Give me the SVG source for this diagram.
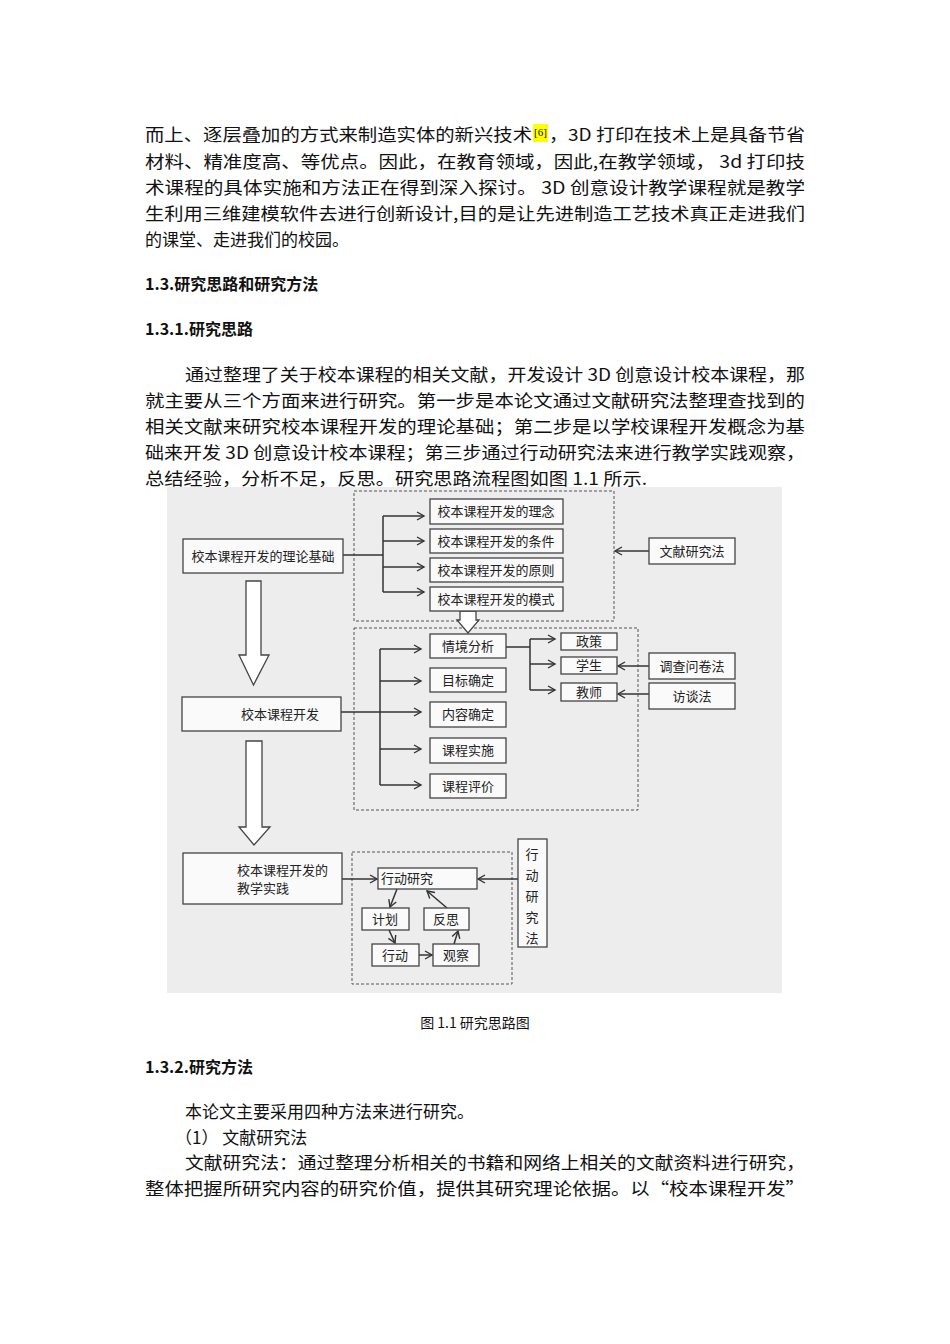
<svg xmlns="http://www.w3.org/2000/svg" width="950" height="1344" viewBox="0 0 950 1344">
<style>
.p{font-family:"Noto Sans CJK SC","Liberation Serif",serif;font-size:17px;fill:#111}
.h{font-family:"Noto Sans CJK SC","Liberation Serif",serif;font-size:16px;font-weight:bold;fill:#111}
.b{fill:#fafafa;stroke:#444;stroke-width:1.3}
.t{font-family:"Noto Sans CJK SC","Liberation Sans",sans-serif;font-size:13px;fill:#222;text-anchor:middle}
.d{fill:none;stroke:#555;stroke-width:1;stroke-dasharray:3 2}
.l{fill:none;stroke:#333;stroke-width:1.5}
.ha{fill:#fff;stroke:#444;stroke-width:1.3}
</style>
<defs><marker id="a" markerWidth="10" markerHeight="10" refX="8" refY="5" orient="auto" markerUnits="userSpaceOnUse"><path d="M1,1 L8,5 L1,9" fill="none" stroke="#333" stroke-width="1.4"/></marker></defs>
<rect width="950" height="1344" fill="#fff"/>
<g id="text">
<text class="p" x="145" y="141" textLength="387" lengthAdjust="spacingAndGlyphs">而上、逐层叠加的方式来制造实体的新兴技术</text>
<rect x="533" y="124" width="15" height="18" fill="#ffff00"/>
<text x="534" y="136" font-family="Liberation Serif,serif" font-size="11" fill="#111">[6]</text>
<text class="p" x="549" y="141" textLength="256" lengthAdjust="spacingAndGlyphs">，3D 打印在技术上是具备节省</text>
<text class="p" x="145" y="168" textLength="660" lengthAdjust="spacingAndGlyphs">材料、精准度高、等优点。因此，在教育领域，因此,在教学领域， 3d 打印技</text>
<text class="p" x="145" y="194" textLength="660" lengthAdjust="spacingAndGlyphs">术课程的具体实施和方法正在得到深入探讨。  3D 创意设计教学课程就是教学</text>
<text class="p" x="145" y="220" textLength="660" lengthAdjust="spacingAndGlyphs">生利用三维建模软件去进行创新设计,目的是让先进制造工艺技术真正走进我们</text>
<text class="p" x="145" y="246">的课堂、走进我们的校园。</text>
<text class="h" x="145" y="290">1.3.研究思路和研究方法</text>
<text class="h" x="145" y="335">1.3.1.研究思路</text>
<text class="p" x="185" y="381" textLength="620" lengthAdjust="spacingAndGlyphs">通过整理了关于校本课程的相关文献，开发设计 3D 创意设计校本课程，那</text>
<text class="p" x="145" y="407" textLength="660" lengthAdjust="spacingAndGlyphs">就主要从三个方面来进行研究。第一步是本论文通过文献研究法整理查找到的</text>
<text class="p" x="145" y="433" textLength="660" lengthAdjust="spacingAndGlyphs">相关文献来研究校本课程开发的理论基础；第二步是以学校课程开发概念为基</text>
<text class="p" x="145" y="459" textLength="660" lengthAdjust="spacingAndGlyphs">础来开发 3D 创意设计校本课程；第三步通过行动研究法来进行教学实践观察，</text>
<text class="p" x="145" y="485" textLength="502" lengthAdjust="spacingAndGlyphs">总结经验，分析不足，反思。研究思路流程图如图 1.1 所示.</text>
<text x="475" y="1028" text-anchor="middle" font-family="Noto Sans CJK SC,Liberation Sans,sans-serif" font-size="14" fill="#111">图 1.1  研究思路图</text>
<text class="h" x="145" y="1073">1.3.2.研究方法</text>
<text class="p" x="185" y="1118">本论文主要采用四种方法来进行研究。</text>
<text class="p" x="175" y="1144">（1）  文献研究法</text>
<text class="p" x="185" y="1169" textLength="620" lengthAdjust="spacingAndGlyphs">文献研究法：通过整理分析相关的书籍和网络上相关的文献资料进行研究，</text>
<text class="p" x="145" y="1195" textLength="660" lengthAdjust="spacingAndGlyphs">整体把握所研究内容的研究价值，提供其研究理论依据。以“校本课程开发”</text>
</g>
<rect x="167" y="487" width="615" height="506" fill="#ededed"/>
<g id="groups">
<rect class="d" x="354" y="491" width="260" height="130"/>
<rect class="d" x="354" y="628" width="284" height="182"/>
<rect class="d" x="352" y="852" width="160" height="132"/>
</g>
<g id="connectors">
<path class="l" d="M343,555 H383 M383,516 V592"/>
<path class="l" marker-end="url(#a)" d="M383,516 H424"/>
<path class="l" marker-end="url(#a)" d="M383,541 H424"/>
<path class="l" marker-end="url(#a)" d="M383,567 H424"/>
<path class="l" marker-end="url(#a)" d="M383,592 H424"/>
<path class="l" marker-end="url(#a)" d="M649,551 H615"/>
<path class="l" d="M341,712 H380 M380,649 V785"/>
<path class="l" marker-end="url(#a)" d="M380,649 H421"/>
<path class="l" marker-end="url(#a)" d="M380,681 H421"/>
<path class="l" marker-end="url(#a)" d="M380,712 H421"/>
<path class="l" marker-end="url(#a)" d="M380,749 H421"/>
<path class="l" marker-end="url(#a)" d="M380,785 H421"/>
<path class="l" d="M506,647 H530 M530,639 V690"/>
<path class="l" marker-end="url(#a)" d="M530,639 H555"/>
<path class="l" marker-end="url(#a)" d="M530,664 H555"/>
<path class="l" marker-end="url(#a)" d="M530,690 H555"/>
<path class="l" marker-end="url(#a)" d="M649,666 H618"/>
<path class="l" marker-end="url(#a)" d="M649,694 H618"/>
<path class="l" marker-end="url(#a)" d="M342,879 H377"/>
<path class="l" marker-end="url(#a)" d="M518,879 H478"/>
<path class="l" marker-end="url(#a)" d="M397,889 L390,907"/>
<path class="l" marker-end="url(#a)" d="M389,930 L395,943"/>
<path class="l" marker-end="url(#a)" d="M419,955 H432"/>
<path class="l" marker-end="url(#a)" d="M454,944 L458,931"/>
<path class="l" marker-end="url(#a)" d="M447,908 L427,891"/>
<path class="ha" d="M246,581 H261 V655 H269 L253.5,685 L239,655 H246 Z"/>
<path class="ha" d="M246,741 H262 V827 H270 L254,845 L239,827 H246 Z"/>
<path class="ha" d="M460,611 H476 V620 H479 L468,633 L457,620 H460 Z"/>
</g>
<g id="n1"><rect class="b" x="183" y="539" width="160" height="34"/><text class="t" x="263" y="561">校本课程开发的理论基础</text></g>
<g id="n2"><rect class="b" x="430" y="499" width="133" height="25"/><text class="t" x="496" y="516">校本课程开发的理念</text></g>
<g id="n3"><rect class="b" x="430" y="529" width="133" height="24"/><text class="t" x="496" y="546">校本课程开发的条件</text></g>
<g id="n4"><rect class="b" x="430" y="558" width="133" height="24"/><text class="t" x="496" y="575">校本课程开发的原则</text></g>
<g id="n5"><rect class="b" x="430" y="587" width="133" height="24"/><text class="t" x="496" y="604">校本课程开发的模式</text></g>
<g id="n6"><rect class="b" x="649" y="538" width="86" height="26"/><text class="t" x="692" y="556">文献研究法</text></g>
<g id="n7"><rect class="b" x="182" y="697" width="159" height="34"/><text class="t" x="280" y="719">校本课程开发</text></g>
<g id="n8"><rect class="b" x="430" y="634" width="76" height="24"/><text class="t" x="468" y="651">情境分析</text></g>
<g id="n9"><rect class="b" x="430" y="668" width="76" height="24"/><text class="t" x="468" y="685">目标确定</text></g>
<g id="n10"><rect class="b" x="430" y="702" width="76" height="25"/><text class="t" x="468" y="719">内容确定</text></g>
<g id="n11"><rect class="b" x="430" y="738" width="76" height="25"/><text class="t" x="468" y="755">课程实施</text></g>
<g id="n12"><rect class="b" x="430" y="774" width="76" height="24"/><text class="t" x="468" y="791">课程评价</text></g>
<g id="n13"><rect class="b" x="561" y="633" width="56" height="17"/><text class="t" x="589" y="646">政策</text></g>
<g id="n14"><rect class="b" x="561" y="657" width="56" height="17"/><text class="t" x="589" y="670">学生</text></g>
<g id="n15"><rect class="b" x="561" y="683" width="56" height="18"/><text class="t" x="589" y="697">教师</text></g>
<g id="n16"><rect class="b" x="649" y="653" width="86" height="26"/><text class="t" x="692" y="671">调查问卷法</text></g>
<g id="n17"><rect class="b" x="649" y="683" width="86" height="26"/><text class="t" x="692" y="701">访谈法</text></g>
<g id="n18"><rect class="b" x="183" y="853" width="159" height="51"/><text class="t" x="237" y="875" text-anchor="start" style="text-anchor:start">校本课程开发的</text><text class="t" x="237" y="893" style="text-anchor:start">教学实践</text></g>
<g id="n19"><rect class="b" x="378" y="868" width="99" height="21"/><text class="t" x="381" y="883" style="text-anchor:start">行动研究</text></g>
<g id="n20"><rect class="b" x="518" y="839" width="29" height="108"/><text class="t" x="532" y="859">行</text><text class="t" x="532" y="880">动</text><text class="t" x="532" y="901">研</text><text class="t" x="532" y="922">究</text><text class="t" x="532" y="943">法</text></g>
<g id="n21"><rect class="b" x="362" y="908" width="47" height="22"/><text class="t" x="385" y="924">计划</text></g>
<g id="n22"><rect class="b" x="424" y="908" width="45" height="22"/><text class="t" x="446" y="924">反思</text></g>
<g id="n23"><rect class="b" x="372" y="944" width="47" height="22"/><text class="t" x="395" y="960">行动</text></g>
<g id="n24"><rect class="b" x="433" y="944" width="46" height="22"/><text class="t" x="456" y="960">观察</text></g>
</svg>
